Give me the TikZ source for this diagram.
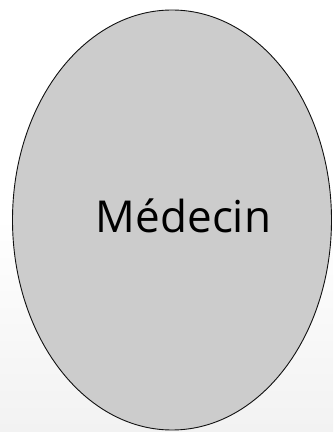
\documentclass[tikz,border=0pt]{standalone}
\usepackage{fontspec}
\setmainfont{Open Sans}
\usepackage{xcolor}
\usepackage{tikz}
\usetikzlibrary{shapes.geometric, positioning}
\definecolor{medgray}{HTML}{CCCCCC}
\definecolor{medline}{HTML}{111111}
\definecolor{medbg}{HTML}{F2F2F2}

\begin{document}
\begin{tikzpicture}[x=1pt,y=1pt,font=\fontsize{44}{50}\selectfont]
        \shade[top color=white,bottom color=medbg,middle color=white,shading angle=0] (0,0) rectangle (333,432);
        \useasboundingbox (0,0) rectangle (333,432);
        \node[draw=medline,fill=medgray,ellipse,line width=0.9pt,minimum width=319pt,minimum height=420pt,inner sep=0pt] (medecin) at (172,212) {};
        \node[inner sep=0pt,anchor=base] (medecinlabel) at (183.5,199) {Médecin};
      \end{tikzpicture}
\end{document}
